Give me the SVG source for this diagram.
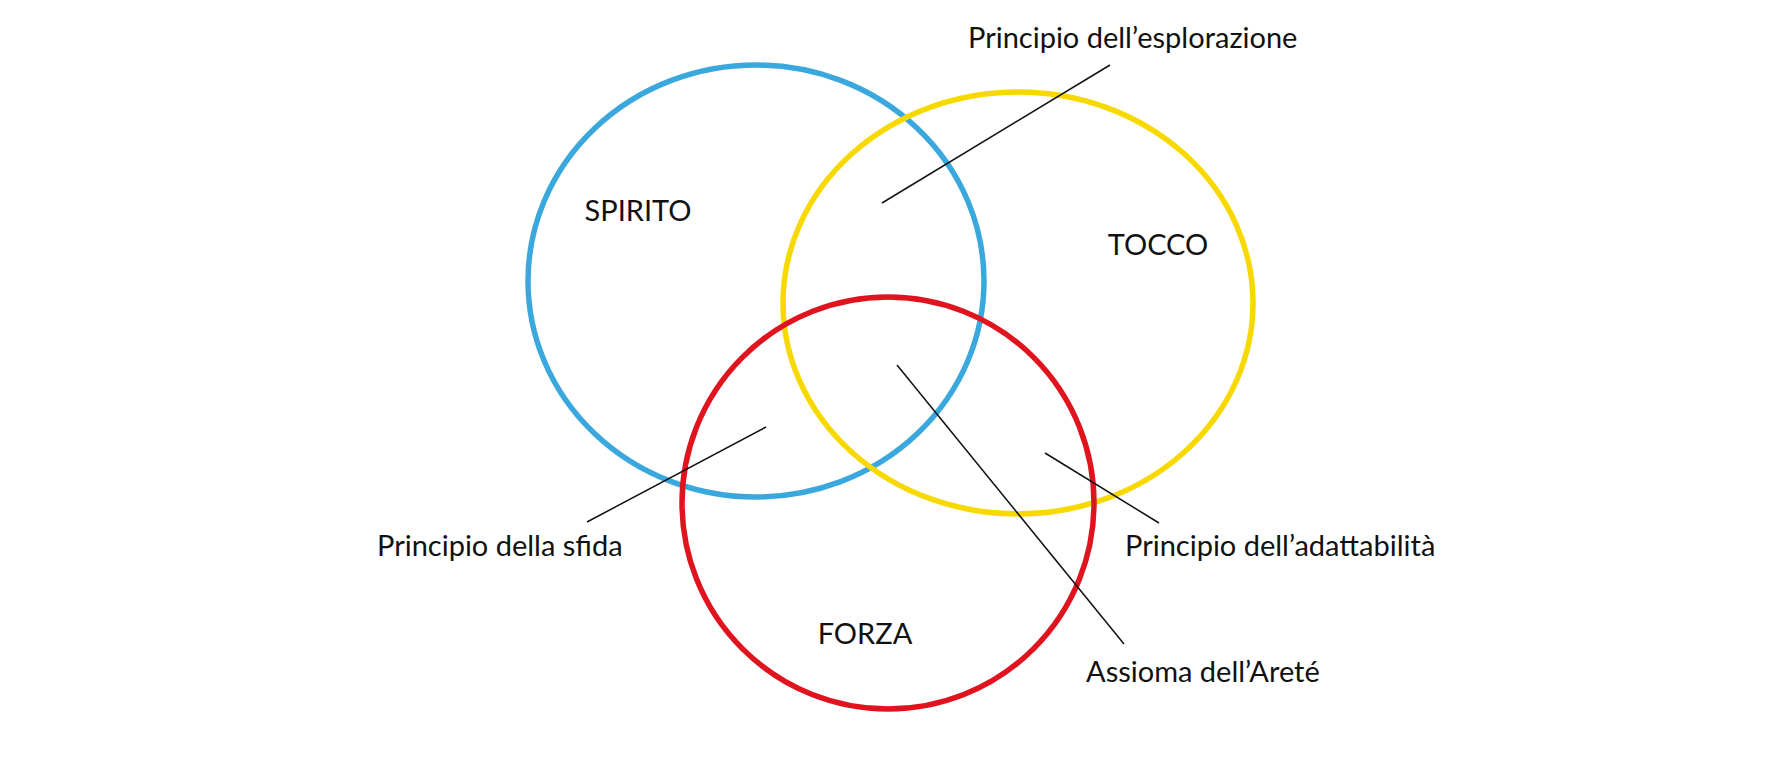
<svg xmlns="http://www.w3.org/2000/svg" width="1780" height="780" viewBox="0 0 1780 780">
<style>
.c{fill:none;stroke-width:5.5}
text{font-family:Lato,"Liberation Sans",sans-serif;font-size:29px;fill:#111}
.l{stroke:#111;stroke-width:1.5}
</style>
<rect width="1780" height="780" fill="#fff"/>
<g id="spirito"><ellipse class="c" cx="756" cy="281" rx="228" ry="216" stroke="#3aa8dd"/><text x="638" y="221" text-anchor="middle">SPIRITO</text></g>
<g id="tocco"><ellipse class="c" cx="1018" cy="303" rx="235" ry="211" stroke="#f7d900"/><text x="1158" y="255" text-anchor="middle">TOCCO</text></g>
<g id="forza"><ellipse class="c" cx="888" cy="503" rx="206" ry="206" stroke="#e0141e"/><text x="865" y="644" text-anchor="middle">FORZA</text></g>
<g id="connectors">
<line class="l" x1="882" y1="203" x2="1110" y2="65"/>
<line class="l" x1="766" y1="427" x2="587" y2="522"/>
<line class="l" x1="1045" y1="453" x2="1159" y2="523"/>
<line class="l" x1="897" y1="365" x2="1124" y2="644"/>
</g>
<g id="labels">
<text x="968" y="48">Principio dell’esplorazione</text>
<text x="377" y="556">Principio della sfida</text>
<text x="1125" y="556">Principio dell’adattabilità</text>
<text x="1086" y="682">Assioma dell’Areté</text>
</g>
</svg>
